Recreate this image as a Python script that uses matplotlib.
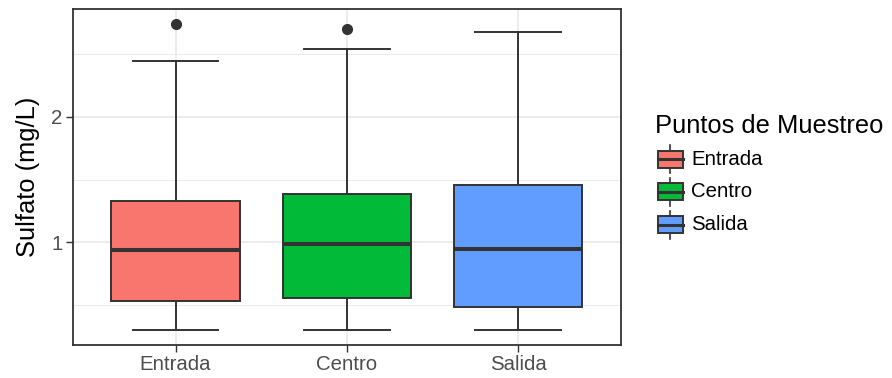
import matplotlib
matplotlib.use("Agg")
import matplotlib.pyplot as plt
from matplotlib.patches import Rectangle
from matplotlib.lines import Line2D

plt.rcParams['font.family'] = ['Liberation Sans', 'DejaVu Sans']

# Summary statistics of sulfate per sampling point
categories = ["Entrada", "Centro", "Salida"]
colors = ["#F8766D", "#00BA38", "#619CFF"]
whisker_low = [0.30, 0.30, 0.30]
q1 = [0.535, 0.554, 0.488]
median = [0.941, 0.986, 0.944]
q3 = [1.329, 1.382, 1.456]
whisker_high = [2.441, 2.539, 2.677]
outliers = [[2.735], [2.700], []]

y_ticks = [1, 2]
legend_title = "Puntos de Muestreo"
y_label = "Sulfato (mg/L)"

dark = "#333333"
grid_col = "#EBEBEB"

fig = plt.figure(figsize=(8.92, 3.78), dpi=100)
ax = fig.add_axes([72.7 / 892, 33 / 378, (621 - 72.7) / 892, (345 - 9) / 378])

stats = []
for i in range(len(categories)):
    stats.append(dict(med=median[i], q1=q1[i], q3=q3[i],
                      whislo=whisker_low[i], whishi=whisker_high[i],
                      fliers=outliers[i]))
positions = list(range(1, len(categories) + 1))

bp = ax.bxp(stats, positions=positions, widths=0.75, capwidths=0.5,
            patch_artist=True, showfliers=True,
            boxprops=dict(edgecolor=dark, linewidth=1.4),
            medianprops=dict(color=dark, linewidth=2.9, solid_capstyle='butt'),
            whiskerprops=dict(color=dark, linewidth=1.4),
            capprops=dict(color=dark, linewidth=1.4),
            flierprops=dict(marker='o', markersize=7, markerfacecolor=dark,
                            markeredgecolor=dark))
for patch, c in zip(bp['boxes'], colors):
    patch.set_facecolor(c)
    patch.set_zorder(3)
for m in bp['medians']:
    m.set_zorder(4)
for w in bp['whiskers'] + bp['caps']:
    w.set_zorder(2)

ax.set_xlim(0.4, 3.6)
ax.set_ylim(0.183, 2.857)
ax.set_xticks(positions)
ax.set_xticklabels(categories)
ax.set_yticks(y_ticks)
ax.set_yticklabels([str(t) for t in y_ticks])
ax.set_yticks([0.5, 1.5, 2.5], minor=True)

ax.set_axisbelow(True)
ax.grid(True, which='major', color=grid_col, linewidth=1.3)
ax.grid(True, which='minor', axis='y', color=grid_col, linewidth=0.7)
ax.tick_params(axis='both', which='major', length=4.8, width=1.0, color=dark,
               labelsize=14.7, labelcolor="#4D4D4D", pad=2.5)
ax.tick_params(axis='y', which='minor', length=0)
for s in ax.spines.values():
    s.set_color(dark)
    s.set_linewidth(1.3)

ax.set_ylabel(y_label, fontsize=18.4, color='black', labelpad=8)

# Legend drawn in its own axes, in pixel units
lax = fig.add_axes([0, 0, 1, 1])
lax.set_xlim(0, 892)
lax.set_ylim(378, 0)
lax.axis('off')
lax.text(655, 133, legend_title, fontsize=18.4, color='black', ha='left', va='baseline')
key_y = [159.3, 191.7, 224.7]
for ky, lab, c in zip(key_y, categories, colors):
    xc = 670
    lax.add_line(Line2D([xc, xc], [ky - 14, ky + 14], color=dark, linewidth=1.2))
    lax.add_patch(Rectangle((657.5, ky - 8.5), 25, 17, facecolor=c, edgecolor=dark,
                            linewidth=1.4, zorder=3))
    lax.add_line(Line2D([657.5, 682.5], [ky, ky], color=dark, linewidth=2.2, zorder=4))
    lax.text(691.5, ky, lab, fontsize=14.7, color='black', ha='left', va='center')

fig.savefig("out.png", dpi=100)
